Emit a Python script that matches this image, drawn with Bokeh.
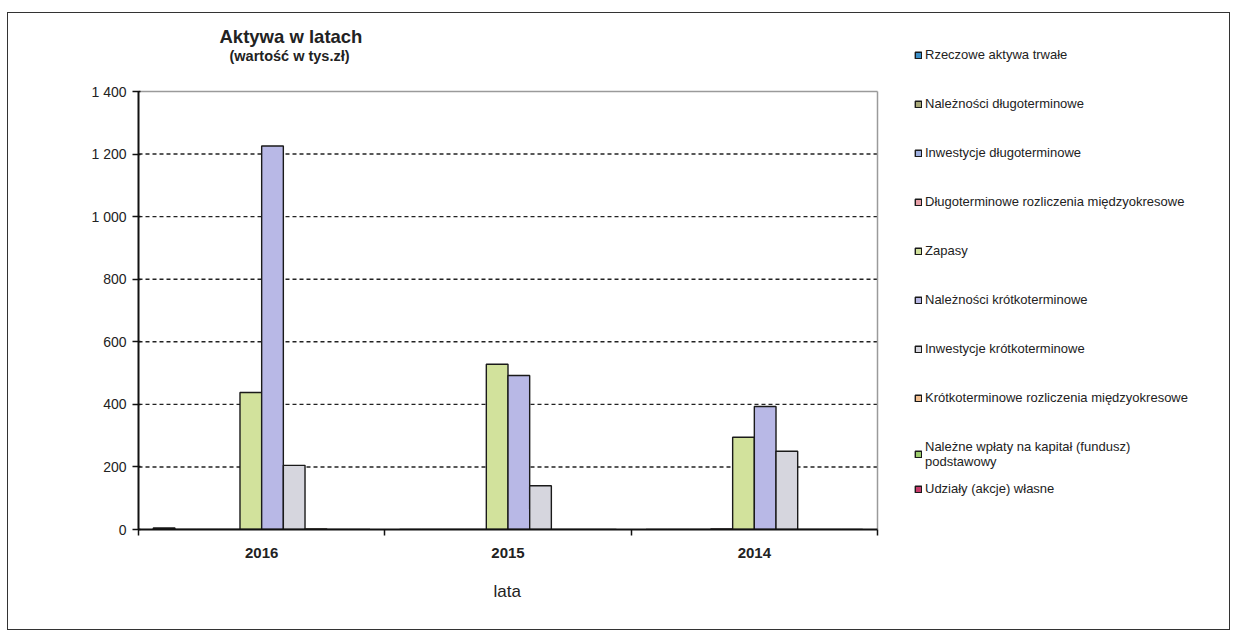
from bokeh.plotting import figure
from bokeh.models import (ColumnDataSource, FixedTicker, Legend, LegendItem,
                          Title, Label, Range1d)
from bokeh.transform import dodge
from bokeh.embed import file_html
from bokeh.resources import INLINE

# ---- data ----
years = ["2016", "2015", "2014"]
series_names = [
    "Rzeczowe aktywa trwałe",
    "Należności długoterminowe",
    "Inwestycje długoterminowe",
    "Długoterminowe rozliczenia międzyokresowe",
    "Zapasy",
    "Należności krótkoterminowe",
    "Inwestycje krótkoterminowe",
    "Krótkoterminowe rozliczenia międzyokresowe",
    "Należne wpłaty na kapitał (fundusz)\npodstawowy",
    "Udziały (akcje) własne",
]
rzeczowe = [5, 0, 0]
nal_dlugo = [0, 0, 0]
inw_dlugo = [0, 0, 0]
rozl_dlugo = [0, 0, 2]
zapasy = [438, 528, 295]
nal_krotko = [1226, 492, 393]
inw_krotko = [205, 140, 250]
rozl_krotko = [2, 0, 0]
nalezne_wplaty = [0, 0, 0]
udzialy = [0, 0, 0]
y_ticks = [0, 200, 400, 600, 800, 1000, 1200, 1400]
y_tick_labels = ["0", "200", "400", "600", "800", "1 000", "1 200", "1 400"]
title_text = "Aktywa w latach"
subtitle_text = "(wartość w tys.zł)"
x_title = "lata"

values = [rzeczowe, nal_dlugo, inw_dlugo, rozl_dlugo, zapasy, nal_krotko,
          inw_krotko, rozl_krotko, nalezne_wplaty, udzialy]
colors = ["#3b8fc8", "#a8a878", "#9fb0e0", "#e8a0a8", "#d2e29c", "#b8b8e6",
          "#d6d6de", "#f4c090", "#9ccc6c", "#c83a6a"]

ncat = len(years)
xc = [i + 0.5 for i in range(ncat)]
data = {"x": xc}
keys = []
for i, v in enumerate(values):
    k = f"s{i}"
    keys.append(k)
    data[k] = v
source = ColumnDataSource(data)

# page geometry
OX, OY = 7, 12           # outer border top-left
W, H = 1223, 618         # outer border size
FL, PR, PT, FB = 137, 876, 90, 528  # plot area (axes box) in page coords
FR, FT = 1228, 14        # frame extended to hold legend and titles
ymax = y_ticks[-1]
ppu = (FB - PT) / ymax
pxx = (PR - FL) / ncat
xmax = (FR - FL) / pxx
ytop = (FB - FT) / ppu


def dx(px):
    return (px - FL) / pxx


def dy(py):
    return (FB - py) / ppu


p = figure(width=W, height=H, output_backend="svg", toolbar_location=None,
           x_range=Range1d(0, xmax), y_range=Range1d(0, ytop),
           min_border_left=FL - OX, min_border_right=OX + W - FR,
           min_border_top=FT - OY, min_border_bottom=OY + H - FB)
p.styles = {"border": "1px solid #333", "margin-left": f"{OX}px",
            "margin-top": f"{OY}px"}
p.outline_line_color = None
p.background_fill_color = "white"

# gridlines and plot-area border (limited to the plot area)
grid_vals = y_ticks[1:-1]
p.segment(x0=[0] * len(grid_vals), x1=[ncat] * len(grid_vals),
          y0=grid_vals, y1=grid_vals, line_color="#222", line_width=1.4,
          line_dash="4 3")
p.segment(x0=[0, ncat], x1=[ncat, ncat], y0=[ymax, 0], y1=[ymax, ymax],
          line_color="#9a9a9a", line_width=1.5)

n = len(values)
bw = 0.088
items = []
for j, k in enumerate(keys):
    off = (j - (n - 1) / 2) * bw
    r = p.vbar(x=dodge("x", off), top=k, width=bw, source=source,
               fill_color=colors[j], line_color="#1a1a1a", line_width=1.4)
    items.append(LegendItem(label=series_names[j], renderers=[r]))

# axes
p.yaxis.bounds = (0, ymax)
p.yaxis.ticker = FixedTicker(ticks=y_ticks)
p.yaxis.major_label_overrides = {t: l for t, l in zip(y_ticks, y_tick_labels)}
p.yaxis.axis_line_color = "#111"
p.yaxis.axis_line_width = 2
p.yaxis.major_tick_line_color = "#111"
p.yaxis.major_tick_line_width = 1.5
p.yaxis.major_tick_in = 2
p.yaxis.major_tick_out = 6
p.yaxis.minor_tick_line_color = None
p.yaxis.major_label_text_font = "Liberation Sans"
p.yaxis.major_label_text_font_size = "14px"
p.yaxis.major_label_text_color = "#222"
p.yaxis.major_label_standoff = 6

p.xaxis.bounds = (0, ncat)
p.xaxis.ticker = FixedTicker(ticks=xc, minor_ticks=list(range(ncat + 1)))
p.xaxis.major_label_overrides = {x: y for x, y in zip(xc, years)}
p.xaxis.axis_line_color = "#111"
p.xaxis.axis_line_width = 2
p.xaxis.major_tick_line_color = None
p.xaxis.minor_tick_line_color = "#111"
p.xaxis.minor_tick_line_width = 1.5
p.xaxis.minor_tick_in = 0
p.xaxis.minor_tick_out = 6
p.xaxis.major_label_text_font = "Liberation Sans"
p.xaxis.major_label_text_font_size = "15px"
p.xaxis.major_label_text_font_style = "bold"
p.xaxis.major_label_text_color = "#222"
p.xaxis.major_label_standoff = 12

p.xgrid.grid_line_color = None
p.ygrid.grid_line_color = None

# x-axis title
p.add_layout(Title(text=x_title, align="left", offset=492 - FL,
                   text_font="Liberation Sans", text_font_size="17px",
                   text_font_style="normal", text_color="#222", standoff=39),
             "below")

# chart titles
p.add_layout(Label(x=dx(218), y=dy(35), text=title_text,
                   text_align="left", text_baseline="middle",
                   text_font="Liberation Sans", text_font_size="18.5px",
                   text_font_style="bold", text_color="#222"))
p.add_layout(Label(x=dx(228), y=dy(54), text=subtitle_text,
                   text_align="left", text_baseline="middle",
                   text_font="Liberation Sans", text_font_size="14.5px",
                   text_font_style="bold", text_color="#222"))


def make_legend(its, loc):
    lg = Legend(items=its, location=loc)
    lg.glyph_width = 8
    lg.glyph_height = 8
    lg.label_height = 15
    lg.label_width = 10
    lg.label_standoff = 3
    lg.spacing = 34
    lg.padding = 0
    lg.margin = 0
    lg.border_line_color = None
    lg.background_fill_alpha = 0
    lg.label_text_font = "Liberation Sans"
    lg.label_text_font_size = "13px"
    lg.label_text_color = "#222"
    return lg


p.add_layout(make_legend(items[:-1], (913 - FL, 60)))
p.add_layout(make_legend(items[-1:], (913 - FL, 33)))

open("out.html", "w").write(file_html(p, INLINE))
